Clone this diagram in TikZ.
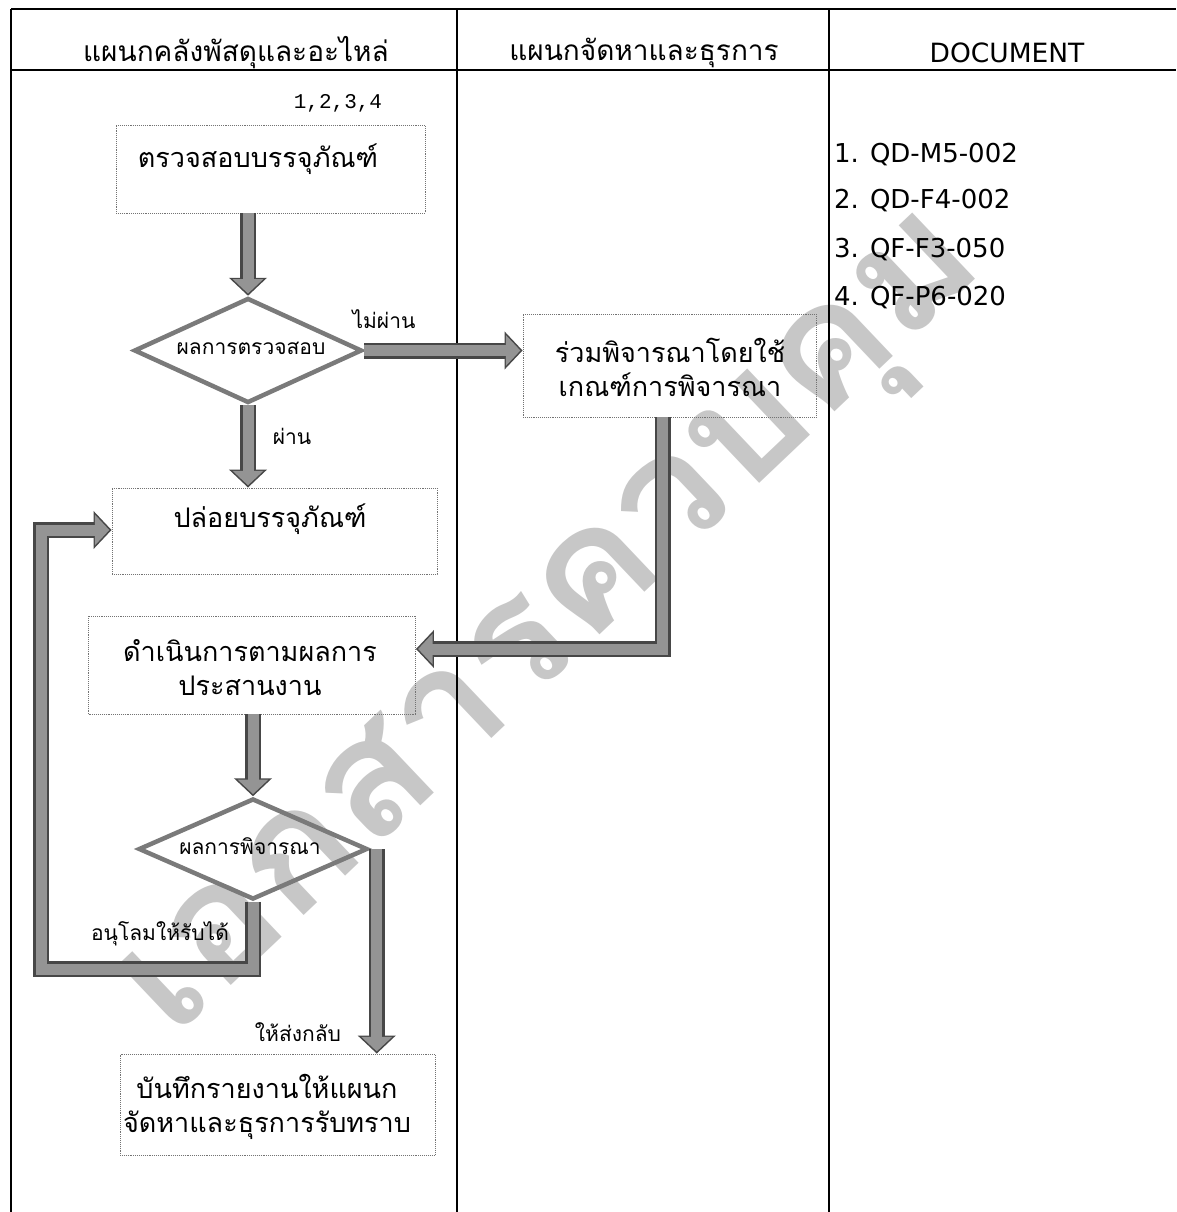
\documentclass[tikz,border=0pt]{standalone}
\usepackage{fontspec}
\usetikzlibrary{arrows.meta,shapes.geometric}
\newfontfamily\thai[Script=Thai]{Loma}
\newfontfamily\wmfont[Script=Thai,FakeStretch=1.06]{Loma}
\newfontfamily\docfont{DejaVu Sans}
\newfontfamily\monofont{Liberation Mono}
\tikzset{
  frame/.style={line width=1.6pt,draw=black},
  dbox/.style={draw=black!55,line width=0.9pt,densely dotted,inner sep=0pt},
  thaibox/.style={font=\thai\fontsize{27}{34}\selectfont,align=center,inner sep=0pt},
  thaihead/.style={font=\thai\fontsize{28}{32}\selectfont,inner sep=0pt},
  thaidia/.style={font=\thai\fontsize{21}{24}\selectfont,inner sep=0pt},
  thailab/.style={font=\thai\fontsize{21}{24}\selectfont,inner sep=0pt},
  docitem/.style={font=\docfont\fontsize{26}{30}\selectfont,anchor=west,inner sep=0pt},
  decision/.style={diamond,draw=black!52,line width=4.5pt,inner sep=0pt},
  arrowout/.style={draw=black!72,line width=16pt,line join=miter,
    -{Triangle[width=37pt,length=18pt]}},
  arrowin/.style={draw=black!42,line width=11pt,line join=miter,shorten >=2.2pt,
    -{Triangle[width=30pt,length=14.5pt]}},
  watermark/.style={font=\wmfont\bfseries\fontsize{164}{164}\selectfont,text=black!22,inner sep=0pt}
}
\begin{document}
\begin{tikzpicture}[x=1pt,y=-1pt]
\useasboundingbox (0,0) rectangle (1176,1212);
% watermark
\node[watermark,rotate=43.5] (wm) at (562,634) {เอกสารควบคุม};
% table
\coordinate (tl) at (11,9);
\coordinate (tr) at (1176,9);
\coordinate (hl) at (11,70);
\coordinate (hr) at (1176,70);
\coordinate (c1t) at (457,9);
\coordinate (c1b) at (457,1212);
\coordinate (c2t) at (829,9);
\coordinate (c2b) at (829,1212);
\coordinate (bl) at (11,1212);
\draw[frame] (tl) -- (tr);
\draw[frame] (hl) -- (hr);
\draw[frame] (tl) -- (bl);
\draw[frame] (c1t) -- (c1b);
\draw[frame] (c2t) -- (c2b);
% headers
\node[thaihead] (h1) at (236,53) {แผนกคลังพัสดุและอะไหล่};
\node[thaihead] (h2) at (644,53) {แผนกจัดหาและธุรการ};
\node[font=\docfont\fontsize{26.5}{30}\selectfont,inner sep=0pt] (h3) at (1007,53) {DOCUMENT};
% documents
\node[docitem] (doc1) at (834,155) {1. QD-M5-002};
\node[docitem] (doc2) at (834,201) {2. QD-F4-002};
\node[docitem] (doc3) at (834,250) {3. QF-F3-050};
\node[docitem] (doc4) at (834,298) {4. QF-P6-020};
% reference numbers
\node[font=\monofont\fontsize{21}{24}\selectfont,inner sep=0pt] (refs) at (338,103) {1,2,3,4};
% boxes
\node[dbox,minimum width=309pt,minimum height=88pt] (b1) at (270.5,169) {};
\node[thaibox] (t1) at (258,159) {ตรวจสอบบรรจุภัณฑ์};
\node[dbox,minimum width=293pt,minimum height=103pt] (b2) at (669.5,365.5) {};
\node[thaibox] (t2) at (670,367) {ร่วมพิจารณาโดยใช้\\เกณฑ์การพิจารณา};
\node[dbox,minimum width=325pt,minimum height=86pt] (b3) at (274.5,531) {};
\node[thaibox] (t3) at (270,519) {ปล่อยบรรจุภัณฑ์};
\node[dbox,minimum width=327pt,minimum height=98pt] (b4) at (252,665) {};
\node[thaibox] (t4) at (250,668) {ดำเนินการตามผลการ\\ประสานงาน};
\node[dbox,minimum width=315pt,minimum height=101pt] (b5) at (277.5,1104.5) {};
\node[thaibox] (t5) at (267,1107) {บันทึกรายงานให้แผนก\\จัดหาและธุรการรับทราบ};
% decisions
\node[decision,minimum width=228pt,minimum height=105pt] (d1) at (248,350.5) {};
\node[thaidia] (td1) at (251,348) {ผลการตรวจสอบ};
\node[decision,minimum width=229pt,minimum height=101pt] (d2) at (253,849) {};
\node[thaidia] (td2) at (250,846) {ผลการพิจารณา};
% labels
\node[thailab] (l1) at (384,319) {ไม่ผ่าน};
\node[thailab] (l2) at (292,436) {ผ่าน};
\node[thailab] (l3) at (160,934) {อนุโลมให้รับได้};
\node[thailab] (l4) at (298,1032) {ให้ส่งกลับ};
% connectors (dark border pass, then lighter core)
\coordinate (loopL) at (41,969);
\foreach \sty in {arrowout,arrowin}{
  \draw[\sty] (b1.south -| d1.north) -- (d1.north);
  \draw[\sty] (d1.east) -- (d1.east -| b2.west);
  \draw[\sty] (d1.south) -- (d1.south |- b3.north);
  \draw[\sty] ([xshift=-7pt]b2.south) |- ([yshift=16pt]b4.east);
  \draw[\sty] (b4.south -| d2.north) -- (d2.north);
  \draw[\sty] (d2.south) -- (d2.south |- loopL) -- (loopL) |- ([yshift=1pt]b3.west);
  \draw[\sty] ([xshift=7pt]d2.east) -- ([xshift=7pt]d2.east |- b5.north);
}
\end{tikzpicture}
\end{document}
